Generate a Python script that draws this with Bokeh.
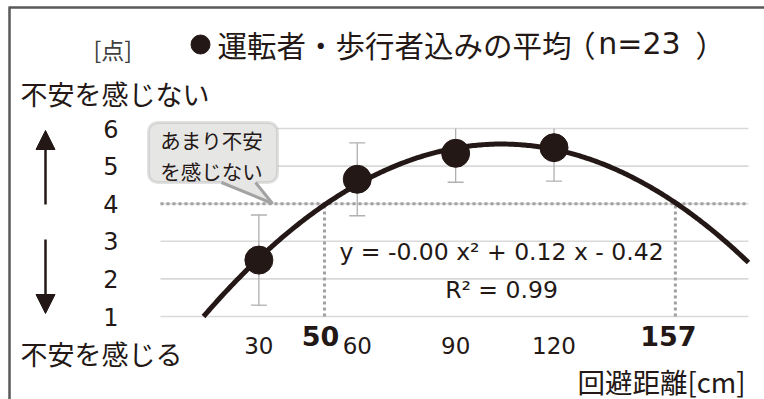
import numpy as np
from bokeh.plotting import figure
from bokeh.models import (Range1d, FixedTicker, Label, Arrow, NormalHead,
                          BoxAnnotation, PolyAnnotation, ColumnDataSource)
from bokeh.embed import file_html
from bokeh.resources import INLINE

# ---- data -------------------------------------------------------------
distance_cm = [30, 60, 90, 120]
score_mean = [2.50, 4.65, 5.34, 5.49]
score_sd = [1.20, 0.97, 0.77, 0.89]
threshold_score = 4
threshold_cm = [50, 157]
x_ticks = [30, 60, 90, 120]
y_ticks = [1, 2, 3, 4, 5, 6]
n_people = 23

title_text = "運転者・歩行者込みの平均"
title_n_text = f"n={n_people}"
unit_text = "[点]"
top_text = "不安を感じない"
bottom_text = "不安を感じる"
xlabel_text = "回避距離[cm]"
callout_lines = ["あまり不安", "を感じない"]

# ---- quadratic trend --------------------------------------------------
coef = np.polyfit(distance_cm, score_mean, 2)
pred = np.polyval(coef, distance_cm)
ss_res = np.sum((np.array(score_mean) - pred) ** 2)
ss_tot = np.sum((np.array(score_mean) - np.mean(score_mean)) ** 2)
r2 = 1 - ss_res / ss_tot
a, b, c = coef
sign_c = "-" if c < 0 else "+"
eq_text = f"y = {a:.2f} x\u00b2 + {b:.2f} x {sign_c} {abs(c):.2f}"
r2_text = f"R\u00b2 = {r2:.2f}"

# ---- canvas geometry: the frame fills the canvas, the plotting area ----
# ---- is the data box X0..X1 x Y0..Y1 inside it ------------------------
W, H = 764, 399
FL, FR, FT, FB = 160, 748, 128, 316
X0, X1 = 0, 179.3
Y0, Y1 = 1, 6


def dx(px):
    return X0 + (px - FL) * (X1 - X0) / (FR - FL)


def dy(py):
    return Y0 + (FB - py) * (Y1 - Y0) / (FB - FT)


INK = "#231815"
JP = "Noto Sans CJK JP"
LAT = "DejaVu Sans"
GUIDE = "#a0a0a0"

p = figure(width=W, height=H, output_backend="svg", toolbar_location=None,
           x_range=Range1d(dx(0), dx(W)), y_range=Range1d(dy(H), dy(0)),
           min_border=0, min_border_left=0, min_border_right=0,
           min_border_top=0, min_border_bottom=0)
p.outline_line_color = None
p.background_fill_color = "white"
p.border_fill_color = "white"
p.grid.visible = False

# horizontal grid lines across the plotting area
p.segment(x0=[X0] * len(y_ticks), y0=y_ticks, x1=[X1] * len(y_ticks), y1=y_ticks,
          line_color="#d9d9d9", line_width=1.6)

# axes pinned to the plotting area edges
for ax in (p.xaxis[0], p.yaxis[0]):
    ax.axis_line_color = None
    ax.major_tick_line_color = None
    ax.minor_tick_line_color = None
    ax.major_tick_out = 0
    ax.major_tick_in = 0
    ax.major_label_text_font = LAT
    ax.major_label_text_color = INK
p.yaxis.fixed_location = X0
p.yaxis.ticker = FixedTicker(ticks=y_ticks)
p.yaxis.major_label_text_font_size = "24px"
p.yaxis.major_label_standoff = 42
p.xaxis.fixed_location = Y0
p.xaxis.ticker = FixedTicker(ticks=x_ticks)
p.xaxis.major_label_text_font_size = "23px"
p.xaxis.major_label_standoff = 20

# threshold guides
p.segment(x0=[X0], y0=[threshold_score], x1=[X1], y1=[threshold_score],
          line_color=GUIDE, line_width=3, line_dash="3 3")
p.segment(x0=threshold_cm, y0=[Y0] * len(threshold_cm),
          x1=threshold_cm, y1=[threshold_score] * len(threshold_cm),
          line_color=GUIDE, line_width=3, line_dash="3 3")

# error bars (cut at the top of the plotting area)
lo = [m - s for m, s in zip(score_mean, score_sd)]
hi = [m + s for m, s in zip(score_mean, score_sd)]
src = ColumnDataSource(dict(x=distance_cm, y=score_mean, lo=lo,
                            hi=[min(v, Y1) for v in hi]))
p.segment(x0="x", y0="lo", x1="x", y1="hi", source=src,
          line_color="#b0b0b0", line_width=1.3)
p.scatter(x=distance_cm, y=lo, marker="dash", size=16,
          line_color="#b0b0b0", line_width=1.3)
cap_x = [x for x, v in zip(distance_cm, hi) if v <= Y1]
cap_y = [v for v in hi if v <= Y1]
p.scatter(x=cap_x, y=cap_y, marker="dash", size=16,
          line_color="#b0b0b0", line_width=1.3)

# trend curve, drawn where it lies inside the plotting area
roots = np.roots(coef - np.array([0, 0, Y0]))
roots = sorted(r.real for r in roots if abs(r.imag) < 1e-9)
x_lo = max(X0, roots[0])
x_hi = min(X1, roots[-1])
xs = np.linspace(x_lo, x_hi, 300)
p.line(xs, np.polyval(coef, xs), line_color=INK, line_width=5)

# mean points
p.scatter(x="x", y="y", source=src, size=28, fill_color=INK, line_color=INK)

# equation
p.add_layout(Label(x=dx(501), y=dy(251), text=eq_text, text_align="center",
                   text_baseline="middle", text_font=LAT,
                   text_font_size="23.5px", text_color=INK))
p.add_layout(Label(x=dx(501), y=dy(289), text=r2_text, text_align="center",
                   text_baseline="middle", text_font=LAT,
                   text_font_size="23.5px", text_color=INK))

# bold threshold labels under the axis
for xv, off in zip(threshold_cm, (-4, -7)):
    p.add_layout(Label(x=xv, y=dy(335), text=str(xv), x_offset=off,
                       text_align="center", text_baseline="middle",
                       text_font=LAT, text_font_size="27px",
                       text_font_style="bold", text_color=INK))

# callout box
p.add_layout(BoxAnnotation(left=dx(148), right=dx(277), top=dy(122), bottom=dy(182),
                           fill_color="#e6e6e5", fill_alpha=1,
                           line_color="#a3a3a3", line_width=3, border_radius=9))
p.add_layout(PolyAnnotation(xs=[dx(221), dx(272), dx(255)],
                            ys=[dy(180), dy(203), dy(180)],
                            fill_color="#e6e6e5", fill_alpha=1, line_color=None))
for x_a in (221, 255):
    p.add_layout(Arrow(end=None, x_start=dx(x_a), y_start=dy(182),
                       x_end=dx(272), y_end=dy(203),
                       line_color="#a3a3a3", line_width=3))
for i, line in enumerate(callout_lines):
    p.add_layout(Label(x=dx(211), y=dy(139 + 31 * i), text=line,
                       text_align="center", text_baseline="middle",
                       text_font=JP, text_font_size="20.5px", text_color=INK))

# title with its bullet marker and sample size in full-width brackets
p.scatter(x=[dx(200)], y=[dy(44)], size=19, fill_color=INK, line_color=INK)
p.add_layout(Label(x=dx(217), y=dy(43), text=title_text, text_baseline="middle",
                   text_font=JP, text_font_size="29.5px", text_color=INK))
p.add_layout(Label(x=dx(565), y=dy(43), text="（", text_baseline="middle",
                   text_font=JP, text_font_size="30px", text_color=INK))
p.add_layout(Label(x=dx(639), y=dy(43), text=title_n_text, text_align="center",
                   text_baseline="middle", text_font=LAT,
                   text_font_size="30px", text_color=INK))
p.add_layout(Label(x=dx(725), y=dy(43), text="）", text_align="right",
                   text_baseline="middle", text_font=JP,
                   text_font_size="30px", text_color=INK))

# texts around the plotting area
p.add_layout(Label(x=dx(93), y=dy(48), text=unit_text, text_baseline="middle",
                   text_font=JP, text_font_size="23px", text_color="#404040"))
p.add_layout(Label(x=dx(20), y=dy(93), text=top_text, text_baseline="middle",
                   text_font=JP, text_font_size="27px", text_color=INK))
p.add_layout(Label(x=dx(20), y=dy(353), text=bottom_text, text_baseline="middle",
                   text_font=JP, text_font_size="27px", text_color=INK))
p.add_layout(Label(x=dx(745), y=dy(380), text=xlabel_text, text_align="right",
                   text_baseline="middle", text_font=JP,
                   text_font_size="27.5px", text_color=INK))

# direction arrows on the left
for y_from, y_to in ((204, 130), (239, 313)):
    p.add_layout(Arrow(end=NormalHead(size=19, fill_color=INK, line_color=INK),
                       x_start=dx(45), y_start=dy(y_from),
                       x_end=dx(45), y_end=dy(y_to),
                       line_color=INK, line_width=2.5))

# outer frame lines (top and left)
p.add_layout(Arrow(end=None, x_start=dx(9), y_start=dy(7), x_end=dx(W + 5), y_end=dy(7),
                   line_color="#595959", line_width=2.5))
p.add_layout(Arrow(end=None, x_start=dx(9), y_start=dy(6), x_end=dx(9), y_end=dy(H + 5),
                   line_color="#595959", line_width=2.5))

open("out.html", "w").write(file_html(p, INLINE))
